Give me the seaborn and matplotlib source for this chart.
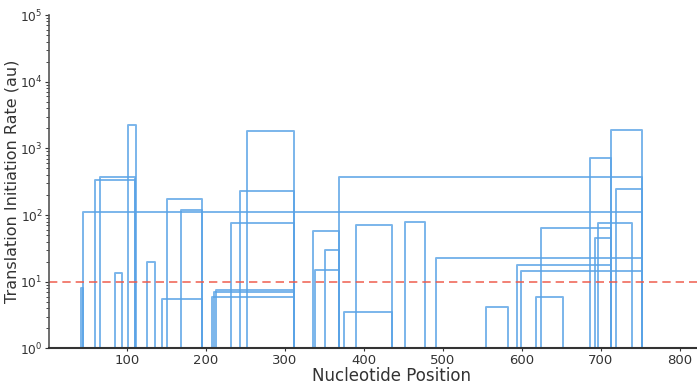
import numpy as np
import pandas as pd
import matplotlib
matplotlib.use("Agg")
import matplotlib.pyplot as plt
import seaborn as sns
from matplotlib.ticker import LogLocator, FixedLocator

# ORF start / end positions (nt) and predicted translation initiation rates (au)
orf_starts = [41, 44, 59, 65, 101, 84, 125, 144, 150, 168, 207, 210, 212, 231, 243, 252,
              336, 338, 351, 368, 375, 390, 452, 491, 555, 594, 599, 618, 624, 687, 693, 697, 713, 719]
orf_ends = [44, 752, 110, 110, 111, 94, 135, 195, 195, 195, 312, 312, 312, 312, 312, 312,
            368, 368, 368, 752, 435, 435, 477, 752, 582, 713, 752, 652, 713, 713, 713, 740, 752, 752]
orf_rates = [8.1, 112, 333, 369, 2270, 13.6, 19.5, 5.6, 173, 121, 6.0, 7.0, 7.5, 76, 226, 1800,
             58, 14.8, 29.8, 378, 3.56, 70, 78, 22.9, 4.2, 17.8, 14.6, 6.0, 63.7, 718, 44.6, 74.8, 1885, 244]
seq_length = 870
baseline = 1
threshold = 10
x_ticks = [100, 200, 300, 400, 500, 600, 700, 800]

rows = []
for i, (s, e, h) in enumerate(zip(orf_starts, orf_ends, orf_rates)):
    xs = [0, s, s, e, e, seq_length]
    ys = [baseline, baseline, h, h, baseline, baseline]
    for k, (xv, yv) in enumerate(zip(xs, ys)):
        rows.append({"orf": i, "order": k, "x": xv, "y": yv})
df = pd.DataFrame(rows)

sns.set_theme(style="ticks")
plt.rcParams['font.family'] = ['DejaVu Sans']

fig = plt.figure(figsize=(6.97, 3.85), dpi=100)
ax_w = 0.984
ax = fig.add_axes([0.0703, 0.095, ax_w, 0.866])

sns.lineplot(data=df, x="x", y="y", units="orf", estimator=None, sort=False,
             color="#5aa3e6", alpha=0.8, linewidth=1.4, ax=ax, legend=False)
ax.axhline(threshold, color="#ee5a4a", linestyle=(0, (5, 3)), linewidth=1.2, alpha=0.9)

ax.set_yscale("log")
ax.set_ylim(1, 1e5)
ax.set_xlim(1, seq_length)
ax.xaxis.set_major_locator(FixedLocator(x_ticks))
ax.yaxis.set_major_locator(LogLocator(base=10, numticks=10))
ax.yaxis.set_minor_locator(LogLocator(base=10, subs=np.arange(2, 10), numticks=20))

ax.set_xlabel("Nucleotide Position", fontsize=12, labelpad=0, color="#333333")
ax.set_ylabel("Translation Initiation Rate (au)", fontsize=11.5, color="#333333",
              va="center")
ax.yaxis.set_label_coords(-37 / (ax_w * 697), 0.5)
ax.tick_params(axis="x", labelsize=9.5, colors="#333333", length=2, width=0.8, pad=2)
ax.tick_params(axis="y", labelsize=8.8, colors="#333333", length=3, width=0.8, pad=1.5)
ax.tick_params(axis="y", which="minor", length=2, width=0.6)

for sp in ["top", "right"]:
    ax.spines[sp].set_visible(False)
ax.spines["left"].set_color("#555555")
ax.spines["left"].set_linewidth(1.2)
ax.spines["bottom"].set_color("#333333")
ax.spines["bottom"].set_linewidth(1.5)

fig.savefig("out.png", dpi=100)
